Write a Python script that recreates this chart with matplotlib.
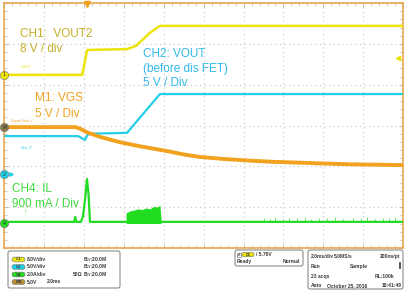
import matplotlib
matplotlib.use('Agg')
import matplotlib.pyplot as plt
from matplotlib.patches import FancyBboxPatch
import numpy as np

W, H = 406, 290

# time in ms (2 ms/div), level in screen divisions from the bottom graticule line
ch1_t = [0, 3.9, 4.15, 6.15, 6.6, 7.3, 7.8, 20]
ch1_div = [4.24, 4.24, 4.85, 4.87, 4.95, 5.27, 5.44, 5.44]

ch2_t = [0, 3.7, 3.95, 4.05, 4.15, 4.3, 6.15, 7.8, 20]
ch2_div = [2.74, 2.74, 2.67, 2.65, 2.76, 2.80, 2.82, 3.77, 3.77]

m1_t = [0, 3.55, 3.8, 4.15, 4.8, 5.8, 6.7, 7.5, 8.3, 9.0, 9.8, 11.0, 12.3, 13.5,
        14.8, 16.0, 17.3, 18.6, 20]
m1_div = [2.96, 2.96, 2.92, 2.83, 2.72, 2.59, 2.50, 2.43, 2.36, 2.29, 2.23, 2.18,
          2.14, 2.11, 2.09, 2.07, 2.05, 2.04, 2.03]

ch4_t = [0, 3.5, 3.55, 3.6, 3.84, 3.94, 4.04, 4.14, 4.22, 4.29, 20]
ch4_div = [0.64, 0.64, 0.76, 0.64, 0.64, 0.78, 1.18, 1.69, 1.30, 0.64, 0.64]

burst_t = [6.10, 6.3, 6.5, 6.7, 6.9, 7.1, 7.3, 7.5, 7.65, 7.8, 7.86]
burst_top = [0.86, 0.91, 0.93, 0.96, 0.94, 0.98, 0.96, 1.02, 1.00, 1.05, 0.70]

noise_t = [13.0, 13.3, 13.6, 14.0, 14.3, 14.7, 15.1, 15.4, 15.8, 16.2, 16.6,
           17.0, 17.5, 17.9, 18.2, 18.6, 19.0, 19.3, 19.6]
noise_div = [0.74, 0.72, 0.75, 0.72, 0.73, 0.74, 0.76, 0.72, 0.74, 0.73, 0.75,
             0.72, 0.73, 0.74, 0.76, 0.72, 0.74, 0.73, 0.75]

trig_t = 4.14
trig_level = 4.65

# channel info (bottom panel)
ch_names = ['C1', 'C2', 'C4', 'M1']
ch_scales = ['8.0V/div', '5.0V/div', '2.0A/div', '5.0V']
ch_bw = ['B$_W$:20.0M', 'B$_W$:20.0M', 'B$_W$:20.0M', '']

YEL = '#ece40a'
CYA = '#22cfe6'
ORA = '#f2a21e'
GRN = '#22dc22'

fig = plt.figure(figsize=(W / 100, H / 100), dpi=100)
ax = fig.add_axes([4.5 / W, 1 - 248 / H, 398.5 / W, 245 / H])
ax.set_xlim(0, 20)
ax.set_ylim(0, 6)
for s in ax.spines.values():
    s.set_color('#eaa850')
    s.set_linewidth(1.2)
ax.set_xticks(np.arange(0, 21, 2))
ax.set_yticks(range(7))
ax.set_xticks(np.arange(0, 20.01, 0.4), minor=True)
ax.set_yticks(np.arange(0, 6.01, 0.2), minor=True)
ax.tick_params(which='both', direction='in', top=True, right=True,
               labelbottom=False, labelleft=False, color='#c8b090')
ax.tick_params(which='major', length=3, width=0.6)
ax.tick_params(which='minor', length=2, width=0.5)
ax.grid(True, ls=(0, (1, 3)), color='#c4c4c4', lw=0.8)

# traces
ax.plot(ch4_t, ch4_div, color=GRN, lw=1.6, zorder=3)
ax.fill_between(burst_t, 0.60, burst_top, color=GRN, lw=0, zorder=3)
ax.vlines(noise_t, 0.64, noise_div, color=GRN, lw=0.6, alpha=0.8, zorder=3)
ax.plot(ch2_t, ch2_div, color=CYA, lw=1.6, zorder=4)
ax.plot(ch1_t, ch1_div, color=YEL, lw=1.8, zorder=4)
ax.plot(m1_t, m1_div, color=ORA, lw=2.8, zorder=5)

# channel markers on the left edge
for lev, col, lab in [(4.24, YEL, '1'), (2.96, '#8a7a50', 'M'), (1.81, CYA, '2'), (0.61, GRN, '4')]:
    ax.plot(0, lev, 'o', ms=6, color=col, mec='#707070', mew=0.4, clip_on=False, zorder=6)
    ax.text(0, lev, lab, fontsize=3.5, ha='center', va='center', color='#303030', zorder=7)
ax.plot(0.35, 1.81, '>', ms=2.5, color=CYA, clip_on=False, zorder=6)
ax.plot(trig_t, 5.98, 'v', ms=5, color=ORA, clip_on=False, zorder=6)
ax.plot(19.75, trig_level, '<', ms=3, color=YEL, clip_on=False, zorder=6)

# overlay in pixel coordinates
ov = fig.add_axes([0, 0, 1, 1])
ov.set_xlim(0, W)
ov.set_ylim(H, 0)
ov.axis('off')

fs = 8.5
fam = 'Liberation Sans'
ann = [
    (20, 37, 'CH1:  VOUT2', '#c4b025'), (20, 52, '8 V / div', '#c4b025'),
    (143, 57, 'CH2: VOUT', '#30b8e8'), (143, 72, '(before dis FET)', '#30b8e8'),
    (143, 86, '5 V / Div', '#30b8e8'),
    (35, 101, 'M1: VGS', ORA), (35, 117, '5 V / Div', ORA),
    (12, 192, 'CH4: IL', '#3cd83c'), (12, 207, '900 mA / Div', '#3cd83c'),
]
for x, y, s, c in ann:
    ov.text(x, y, s, fontsize=fs, family=fam, color=c, va='baseline')

small = [(21, 68, 'VOUT', YEL), (11, 122, 'Vgate Vout_f', ORA),
         (21, 148, 'Vout_P', CYA), (25, 212, 'IL', GRN)]
for x, y, s, c in small:
    ov.text(x, y, s, fontsize=2.7, family=fam, color=c, va='baseline')

# bottom info panels
tc = '#3a3a3a'
ov.add_patch(FancyBboxPatch((8, 251), 112, 37, boxstyle='round,pad=0,rounding_size=2',
                            fc='white', ec='#8c8c8c', lw=0.8))
pill_cols = [YEL, CYA, GRN, '#b8903a']
for i, (nm, sc, bw) in enumerate(zip(ch_names, ch_scales, ch_bw)):
    y = 259.5 + i * 7.5
    ov.add_patch(FancyBboxPatch((12, y - 2.4), 13, 4.8, boxstyle='round,pad=0,rounding_size=2.4',
                                fc=pill_cols[i], ec='#707070', lw=0.4))
    ov.text(18.5, y, nm, fontsize=2.8, ha='center', va='center', color=tc, weight='bold')
    ov.text(27, y, sc, fontsize=3.6, va='center', color=tc, weight='bold', family=fam)
    ov.text(83, y, bw, fontsize=3.6, va='center', color=tc, weight='bold', family=fam)
ov.text(73, 274, '50\u03a9', fontsize=3.6, va='center', color=tc, weight='bold', family=fam)
ov.text(47, 281.5, '2.0ms', fontsize=3.6, va='center', color=tc, weight='bold', family=fam)

ov.add_patch(FancyBboxPatch((235, 250), 68, 16, boxstyle='round,pad=0,rounding_size=2',
                            fc='white', ec='#8c8c8c', lw=0.8))
ov.add_patch(plt.Rectangle((237, 252.5), 4, 4, fc='white', ec='#606060', lw=0.4))
ov.text(239, 254.5, 'A', fontsize=2.5, ha='center', va='center', color=tc)
ov.add_patch(FancyBboxPatch((242, 252.3), 12, 4.4, boxstyle='round,pad=0,rounding_size=2.2',
                            fc=YEL, ec='#707070', lw=0.4))
ov.text(248, 254.5, 'C1', fontsize=2.6, ha='center', va='center', color=tc, weight='bold')
ov.text(256, 254.5, '/ 5.76V', fontsize=3.6, va='center', color=tc, weight='bold', family=fam)
ov.text(237, 261.5, 'Ready', fontsize=3.6, va='center', color=tc, weight='bold', family=fam)
ov.text(283, 261.5, 'Normal', fontsize=3.6, va='center', color=tc, weight='bold', family=fam)

ov.add_patch(FancyBboxPatch((308, 250), 95, 39, boxstyle='round,pad=0,rounding_size=2',
                            fc='white', ec='#8c8c8c', lw=0.8))
rows = [
    [(311, '2.0ms/div'), (334, '5.0MS/s'), (380, '200ns/pt')],
    [(311, 'Run'), (350, 'Sample')],
    [(311, '23 acqs'), (375, 'RL:100k')],
    [(311, 'Auto'), (327, 'October 25, 2016'), (382, '18:41:49')],
]
for i, row in enumerate(rows):
    y = 256.5 + i * 9.8
    for x, s in row:
        ov.text(x, y, s, fontsize=3.6, va='center', color=tc, weight='bold', family=fam)
ov.plot([400, 400], [263, 268], color=tc, lw=1.2)

fig.savefig('out.png', dpi=100)
